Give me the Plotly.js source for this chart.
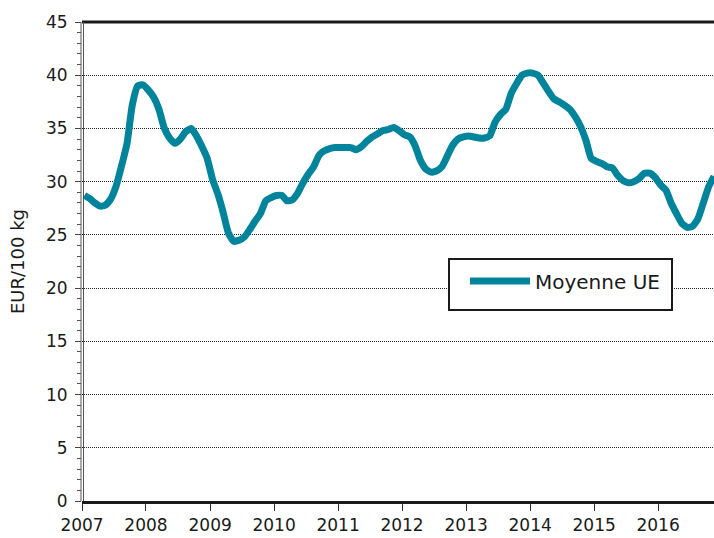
<!DOCTYPE html>
<html>
<head>
<meta charset="utf-8">
<script src="https://cdn.plot.ly/plotly-3.0.1.min.js"></script>
<style>html,body{margin:0;padding:0;background:#fff;}#chart{width:714px;height:538px;}</style>
</head>
<body>
<div id="chart"></div>
<script>
// Months (x categories)
const months = [
 '2007-01-15','2007-02-15','2007-03-15','2007-04-15','2007-05-15','2007-06-15','2007-07-15','2007-08-15','2007-09-15','2007-10-15','2007-11-15','2007-12-15',
 '2008-01-15','2008-02-15','2008-03-15','2008-04-15','2008-05-15','2008-06-15','2008-07-15','2008-08-15','2008-09-15','2008-10-15','2008-11-15','2008-12-15',
 '2009-01-15','2009-02-15','2009-03-15','2009-04-15','2009-05-15','2009-06-15','2009-07-15','2009-08-15','2009-09-15','2009-10-15','2009-11-15','2009-12-15',
 '2010-01-15','2010-02-15','2010-03-15','2010-04-15','2010-05-15','2010-06-15','2010-07-15','2010-08-15','2010-09-15','2010-10-15','2010-11-15','2010-12-15',
 '2011-01-15','2011-02-15','2011-03-15','2011-04-15','2011-05-15','2011-06-15','2011-07-15','2011-08-15','2011-09-15','2011-10-15','2011-11-15','2011-12-15',
 '2012-01-15','2012-02-15','2012-03-15','2012-04-15','2012-05-15','2012-06-15','2012-07-15','2012-08-15','2012-09-15','2012-10-15','2012-11-15','2012-12-15',
 '2013-01-15','2013-02-15','2013-03-15','2013-04-15','2013-05-15','2013-06-15','2013-07-15','2013-08-15','2013-09-15','2013-10-15','2013-11-15','2013-12-15',
 '2014-01-15','2014-02-15','2014-03-15','2014-04-15','2014-05-15','2014-06-15','2014-07-15','2014-08-15','2014-09-15','2014-10-15','2014-11-15','2014-12-15',
 '2015-01-15','2015-02-15','2015-03-15','2015-04-15','2015-05-15','2015-06-15','2015-07-15','2015-08-15','2015-09-15','2015-10-15','2015-11-15','2015-12-15',
 '2016-01-15','2016-02-15','2016-03-15','2016-04-15','2016-05-15','2016-06-15','2016-07-15','2016-08-15','2016-09-15','2016-10-15','2016-11-15'
];
// Moyenne UE, EUR/100 kg
const moyenneUE = [
 28.7,28.4,28.0,27.7,27.8,28.4,29.6,31.5,33.6,37.2,39.0,39.1,
 38.6,37.9,36.8,35.0,34.1,33.6,34.0,34.7,35.0,34.3,33.3,32.2,
 30.2,28.8,27.2,25.2,24.4,24.5,24.8,25.5,26.3,27.0,28.2,28.5,
 28.7,28.7,28.2,28.3,28.9,29.9,30.7,31.4,32.5,32.9,33.1,33.2,
 33.2,33.2,33.2,33.0,33.3,33.8,34.2,34.5,34.8,34.9,35.1,34.8,
 34.4,34.2,33.4,32.0,31.2,30.9,31.0,31.4,32.4,33.4,34.0,34.2,
 34.3,34.2,34.1,34.1,34.3,35.6,36.3,36.8,38.3,39.2,40.0,40.2,
 40.2,40.0,39.3,38.5,37.8,37.5,37.2,36.8,36.1,35.2,33.9,32.2,
 31.9,31.7,31.4,31.3,30.6,30.1,29.9,30.0,30.3,30.8,30.8,30.4,
 29.7,29.2,28.0,27.0,26.1,25.7,25.8,26.5,28.0,29.5,30.5
];
const seriesName = 'Moyenne UE';
const yTitle = 'EUR/100 kg';
const yTicks = [0,5,10,15,20,25,30,35,40,45];

const FONT = 'DejaVu Sans, Verdana, sans-serif';
const data = [{
  type: 'scatter', mode: 'lines', name: seriesName,
  x: months, y: moyenneUE,
  line: {color: '#00849c', width: 7, shape: 'spline', smoothing: 0.5},
  hoverinfo: 'skip'
}];
const layout = {
  width: 714, height: 538,
  margin: {l: 82, r: 0, t: 22, b: 37, pad: 0},
  paper_bgcolor: '#fff', plot_bgcolor: '#fff',
  font: {family: FONT, size: 17, color: '#1a1a1a'},
  showlegend: true,
  legend: {x: 0.606, y: 0.5, xanchor: 'left', yanchor: 'top',
    bgcolor: 'rgba(0,0,0,0)', borderwidth: 0,
    font: {family: FONT, size: 20, color: '#1a1a1a'}, itemwidth: 60},
  xaxis: {
    type: 'date', range: ['2007-01-01', '2016-11-15'],
    tick0: '2007-01-01', dtick: 'M12', tickformat: '%Y',
    ticks: 'outside', ticklen: 7, tickwidth: 1, tickcolor: '#333',
    showline: true, linewidth: 3, linecolor: '#1a1a1a',
    showgrid: false, zeroline: false,
    tickfont: {family: FONT, size: 17, color: '#1a1a1a'}
  },
  yaxis: {
    range: [0, 45], tickvals: yTicks, ticktext: yTicks.map(String),
    ticks: 'outside', ticklen: 6, tickwidth: 1, tickcolor: '#444',
    minor: {dtick: 1, ticks: 'outside', ticklen: 4, tickwidth: 1, tickcolor: '#555', showgrid: false},
    showgrid: true, gridcolor: '#222', griddash: '1px,1px', gridwidth: 1,
    showline: false, zeroline: false,
    ticklabelstandoff: 4,
    tickfont: {family: FONT, size: 17, color: '#1a1a1a'},
    title: {text: yTitle, font: {family: FONT, size: 18, color: '#1a1a1a'}, standoff: 16}
  },
  shapes: [
    {type: 'line', xref: 'paper', yref: 'paper', x0: 0, x1: 1, y0: 1, y1: 1, line: {color: '#1a1a1a', width: 3}},
    {type: 'line', xref: 'paper', yref: 'paper', xsizemode: 'pixel', xanchor: 0, x0: -1, x1: -1, y0: 0, y1: 1, line: {color: '#555', width: 1}},
    {type: 'line', xref: 'paper', yref: 'paper', xsizemode: 'pixel', xanchor: 0, x0: 1.5, x1: 1.5, y0: 0, y1: 1, line: {color: '#555', width: 1}},
    {type: 'rect', xref: 'paper', yref: 'paper', xsizemode: 'pixel', ysizemode: 'pixel', xanchor: 0, yanchor: 0,
     x0: 367, x1: 590, y0: 242, y1: 191, fillcolor: '#fff', line: {color: '#1a1a1a', width: 2}, layer: 'above'}
  ]
};
Plotly.newPlot('chart', data, layout, {displayModeBar: false, staticPlot: true});
</script>
</body>
</html>
